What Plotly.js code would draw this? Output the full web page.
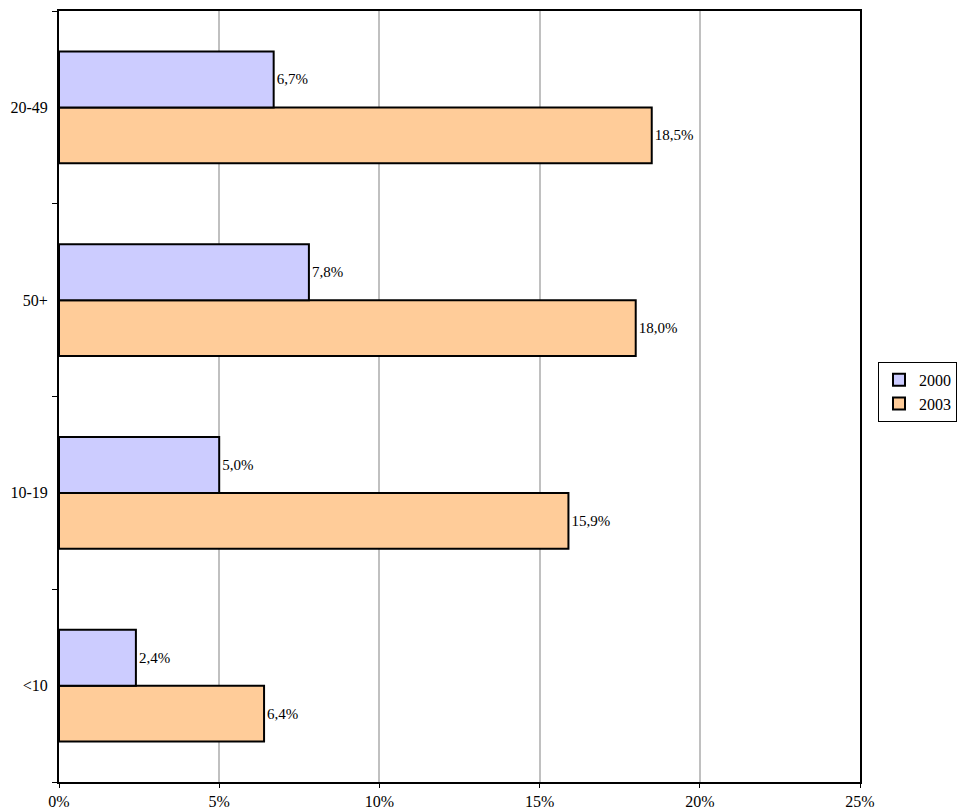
<!DOCTYPE html>
<html>
<head>
<meta charset="utf-8">
<script src="https://cdn.plot.ly/plotly-3.0.1.min.js"></script>
<style>html,body{margin:0;padding:0;background:#fff;}#chart{width:957px;height:812px;}</style>
</head>
<body>
<div id="chart"></div>
<script>
const categories = ['<10', '10-19', '50+', '20-49'];
const values2000 = [2.4, 5.0, 7.8, 6.7];
const values2003 = [6.4, 15.9, 18.0, 18.5];
const seriesNames = ['2000', '2003'];
const xTicks = [0, 5, 10, 15, 20, 25];
const xTickLabels = ['0%', '5%', '10%', '15%', '20%', '25%'];

const serif = '"Liberation Serif", "Times New Roman", Times, serif';

const traces = [
  {
    type: 'bar', orientation: 'h', name: seriesNames[1],
    y: categories, x: values2003,
    marker: {color: '#FFCC99', line: {color: '#000', width: 2}},
    texttemplate: '%{x:.1f}%', textposition: 'outside', cliponaxis: false,
    textfont: {family: serif, size: 15, color: '#000'},
    hoverinfo: 'skip'
  },
  {
    type: 'bar', orientation: 'h', name: seriesNames[0],
    y: categories, x: values2000,
    marker: {color: '#CCCCFF', line: {color: '#000', width: 2}},
    texttemplate: '%{x:.1f}%', textposition: 'outside', cliponaxis: false,
    textfont: {family: serif, size: 15, color: '#000'},
    hoverinfo: 'skip'
  }
];

const layout = {
  width: 957, height: 812,
  margin: {l: 59, r: 97, t: 11, b: 30, autoexpand: false},
  paper_bgcolor: '#fff', plot_bgcolor: '#fff',
  separators: ',.',
  barmode: 'group', bargap: 0.42, bargroupgap: 0,
  font: {family: serif, size: 16, color: '#000'},
  showlegend: true,
  legend: {
    x: 1.0225, xanchor: 'left', y: 0.506, yanchor: 'middle',
    traceorder: 'reversed', bordercolor: '#000', borderwidth: 1,
    font: {family: serif, size: 16, color: '#000'},
    itemwidth: 30, tracegroupgap: 0
  },
  xaxis: {
    range: [0, 25], tickmode: 'array', tickvals: xTicks, ticktext: xTickLabels,
    showgrid: true, gridcolor: '#c0c0c0', gridwidth: 2,
    zeroline: false, showline: true, linecolor: '#000', linewidth: 2, mirror: true,
    ticks: 'outside', ticklen: 4, tickcolor: '#000',
    tickfont: {family: serif, size: 16, color: '#000'},
    fixedrange: true
  },
  yaxis: {
    type: 'category', categoryorder: 'array', categoryarray: categories,
    showgrid: false, zeroline: false,
    showline: true, linecolor: '#000', linewidth: 2, mirror: true,
    ticks: 'outside', tickson: 'boundaries', ticklen: 5, tickcolor: '#000',
    tickfont: {family: serif, size: 16, color: '#000'},
    ticklabelstandoff: 6,
    fixedrange: true
  }
};

Plotly.newPlot('chart', traces, layout, {displayModeBar: false, staticPlot: true});
</script>
</body>
</html>
